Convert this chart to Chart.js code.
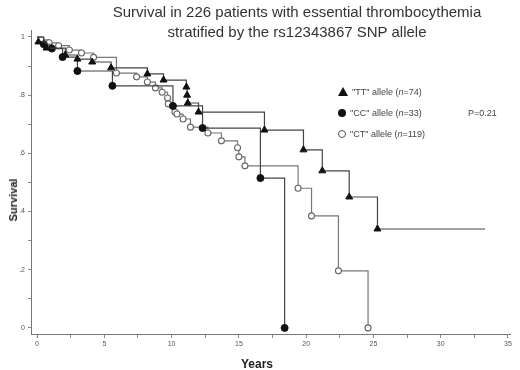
<!doctype html><html lang="en">
<head>
<meta charset="utf-8">
<title>Survival by rs12343867 allele</title>
<script src="https://cdn.jsdelivr.net/npm/chart.js@4"></script>
<style>
html,body{margin:0;padding:0;background:#fff}
#wrap{position:relative;width:520px;height:370px;font-family:"Liberation Sans",Arial,sans-serif}
#ttl{position:absolute;left:0;top:2px;width:594px;text-align:center;font-size:15px;line-height:20px;color:#333}
.lg{position:absolute;left:338px;font-size:9px;color:#444;white-space:nowrap}
.lg i{font-style:italic}
.mk{display:inline-block;margin-right:4px;vertical-align:-1px}
.tri{width:0;height:0;border-left:5px solid transparent;border-right:5px solid transparent;border-bottom:9px solid #111}
.dot{width:8px;height:8px;border-radius:50%;background:#111}
.ring{width:6px;height:6px;border-radius:50%;border:1.2px solid #555;background:#fff}
#pv{position:absolute;left:468px;top:108px;font-size:9px;color:#444}
#ytl{position:absolute;left:13px;top:200px;transform:translate(-50%,-50%) rotate(-90deg);font-size:11px;font-weight:bold;color:#222}
#xtl{position:absolute;left:257px;top:364px;transform:translate(-50%,-50%);font-size:12px;font-weight:bold;color:#222}
</style>
</head>
<body>
<div id="wrap">
  <canvas id="km" width="520" height="370"></canvas>
  <div id="ttl">Survival in 226 patients with essential thrombocythemia<br>stratified by the rs12343867 SNP allele</div>
  <div class="lg" style="top:87px"><span class="mk tri"></span>"TT" allele (<i>n</i>=74)</div>
  <div class="lg" style="top:108px"><span class="mk dot"></span>"CC" allele (<i>n</i>=33)</div>
  <div class="lg" style="top:129px"><span class="mk ring"></span>"CT" allele (<i>n</i>=119)</div>
  <div id="pv">P=0.21</div>
  <div id="ytl">Survival</div>
  <div id="xtl">Years</div>
</div>
<script>
// survival curves (years, cumulative survival)
const ttTime=[0,0.1,0.7,2.1,3.0,4.1,5.5,8.2,9.4,11.1,11.15,11.2,12.0,16.9,19.8,21.2,23.2,25.3];
const ttSurv=[1,.983,.962,.938,.924,.914,.894,.873,.852,.828,.80,.773,.742,.68,.612,.54,.45,.34];
const ttLastFollowUp=33.3;
const ccTime=[0,0.5,1.1,1.9,3.0,5.6,10.1,12.3,16.6,18.4];
const ccSurv=[1,.975,.96,.931,.883,.832,.763,.687,.515,0];
const ctTime=[0,0.3,0.9,1.6,2.4,3.3,4.2,5.9,7.4,8.2,8.8,9.3,9.7,9.75,10.25,10.4,10.85,11.4,12.7,13.7,14.9,15.0,15.45,19.4,20.4,22.4,24.6];
const ctSurv=[1,.99,.98,.97,.955,.945,.93,.876,.863,.845,.825,.81,.79,.77,.742,.735,.718,.69,.67,.643,.619,.588,.557,.48,.385,.196,0];
const xTicks=[0,2.5,5,7.5,10,12.5,15,17.5,20,22.5,25,27.5,30,32.5,35];
const yTicks=[0,.1,.2,.3,.4,.5,.6,.7,.8,.9,1];
const yLabels={0:'0',0.2:'.2',0.4:'.4',0.6:'.6',0.8:'.8',1:'1'};

const pts=(t,s)=>t.map((x,i)=>({x,y:s[i]}));
const ttData=pts(ttTime,ttSurv).concat([{x:ttLastFollowUp,y:ttSurv[ttSurv.length-1]}]);
// no marker on the starting point and on the last follow-up point
const rad=(r,n)=>c=>(c.dataIndex===0||c.dataIndex>=n)?0:r;

new Chart(document.getElementById('km'),{
  type:'line',
  data:{datasets:[
    {label:'TT',data:ttData,stepped:true,borderColor:'#444',borderWidth:1.2,pointStyle:'triangle',
     pointRadius:rad(4,ttTime.length),pointBackgroundColor:'#111',pointBorderColor:'#111',pointBorderWidth:1},
    {label:'CC',data:pts(ccTime,ccSurv),stepped:true,borderColor:'#444',borderWidth:1.2,
     pointRadius:rad(3.5,ccTime.length),pointBackgroundColor:'#111',pointBorderColor:'#111',pointBorderWidth:1},
    {label:'CT',data:pts(ctTime,ctSurv),stepped:true,borderColor:'#777',borderWidth:1.2,
     pointRadius:rad(3,ctTime.length),pointBackgroundColor:'#fff',pointBorderColor:'#666',pointBorderWidth:1.1}
  ]},
  options:{
    responsive:false,animation:false,
    layout:{padding:{top:30,right:10,left:0,bottom:0}},
    plugins:{legend:{display:false},tooltip:{enabled:false}},
    scales:{
      x:{type:'linear',min:-0.45,max:35.15,
        afterBuildTicks:s=>{s.ticks=xTicks.map(v=>({value:v}))},
        afterFit:s=>{s.height=36},
        grid:{drawOnChartArea:false,drawTicks:true,tickLength:4,color:'#888'},
        border:{color:'#777',width:1},
        ticks:{autoSkip:false,maxRotation:0,padding:2,color:'#555',font:{size:7},
          callback:v=>v%5===0?String(v):''}},
      y:{type:'linear',min:-0.021,max:1.024,
        afterBuildTicks:s=>{s.ticks=yTicks.map(v=>({value:v}))},
        afterFit:s=>{s.width=31},
        grid:{drawOnChartArea:false,drawTicks:true,tickLength:3,color:'#888'},
        border:{color:'#777',width:1},
        ticks:{autoSkip:false,padding:3,color:'#555',font:{size:7},
          callback:v=>yLabels[Math.round(v*10)/10]??''}}
    }
  }
});
</script>
</body></html>
